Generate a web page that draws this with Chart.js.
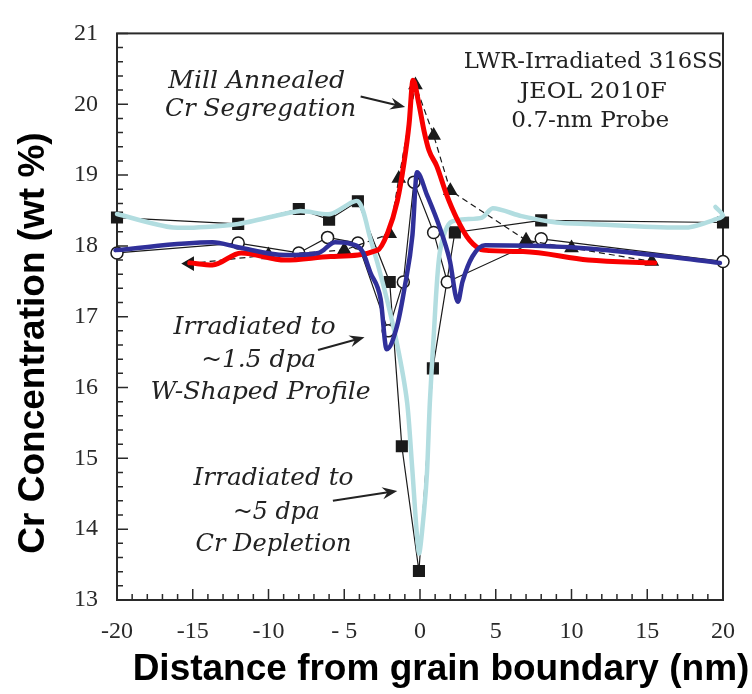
<!DOCTYPE html>
<html>
<head>
<meta charset="utf-8">
<script src="https://cdn.jsdelivr.net/npm/chart.js@4"></script>
<style>
  body { margin: 0; background: #fff; }
</style>
</head>
<body>
<canvas id="chart" width="752" height="694"></canvas>
<script>
// values (x in nm, y in wt %)

const xTickValues = [-20, -15, -10, -5, 0, 5, 10, 15, 20];
const xTickLabels = ["-20", "-15", "-10", "- 5", "0", "5", "10", "15", "20"];
const yTickValues = [13, 14, 15, 16, 17, 18, 19, 20, 21];
const yTickLabels = ["13", "14", "15", "16", "17", "18", "19", "20", "21"];

// hand-drawn coloured curves
const redX = [-15.2, -13.7, -11.8, -8.9, -5.9, -2.8, -2.16, -1.5, -1.05, -0.72, -0.46, -0.07, 0.26, 0.59, 1.1, 1.76, 2.4, 3.27, 4.2, 6.8, 11.1, 15.5];
const redY = [17.76, 17.73, 17.9, 17.8, 17.85, 17.94, 18.17, 18.63, 19.18, 19.72, 20.34, 20.0, 19.63, 19.35, 19.13, 18.72, 18.4, 18.08, 17.94, 17.92, 17.8, 17.76];

const darkX = [-20.1, -13.7, -12, -8.9, -6.7, -5.6, -4.6, -3.8, -3.27, -2.6, -2.2, -1.5, -1.0, -0.5, -0.2, 0.46, 1.3, 1.96, 2.5, 2.8, 3.46, 4.3, 10, 15.4, 19.8];
const darkY = [17.94, 18.05, 17.98, 17.87, 17.9, 18.05, 18.03, 17.92, 17.62, 17.25, 16.54, 16.88, 17.43, 18.15, 19.04, 18.72, 18.26, 17.8, 17.21, 17.49, 17.85, 18.01, 17.98, 17.87, 17.76];

const lightX = [-20, -16.3, -12, -8, -5.9, -4.1, -3.3, -2.4, -1.5, -0.85, -0.52, -0.07, 0.26, 0.46, 0.65, 0.9, 1.3, 2.0, 4.1, 4.8, 6.7, 9, 11.1, 17.6, 19.6, 20, 19.5];
const lightY = [18.45, 18.26, 18.31, 18.49, 18.45, 18.63, 18.12, 17.43, 16.6, 15.79, 14.88, 13.66, 14.24, 14.79, 15.79, 16.71, 17.9, 18.33, 18.4, 18.53, 18.42, 18.33, 18.31, 18.26, 18.38, 18.43, 18.55];

// original measured points
const sqX = [-20, -12, -8, -6, -4.1, -2, -1.2, -0.07, 0.85, 2.3, 8, 20];
const sqY = [18.4, 18.31, 18.52, 18.37, 18.63, 17.49, 15.17, 13.41, 16.27, 18.19, 18.36, 18.33];

const circX = [-20, -12, -8, -6.1, -4.1, -2.1, -1.1, -0.4, 0.9, 1.8, 8, 20];
const circY = [17.9, 18.04, 17.9, 18.12, 18.04, 16.8, 17.49, 18.9, 18.19, 17.49, 18.1, 17.78];

const triX = [-15.2, -10, -5, -2, -1.4, -0.3, 0.9, 2, 7, 10, 15.3];
const triY = [17.75, 17.87, 17.94, 18.17, 18.95, 20.27, 19.56, 18.78, 18.08, 17.97, 17.78];

const pts = (xs, ys) => xs.map((x, i) => ({ x: x, y: ys[i] }));

// labels on the plot, placed in data units
const notes = [
  { text: "Mill Annealed", x: -10.78, y: 20.23, w: 177, italic: true },
  { text: "Cr Segregation", x: -10.52, y: 19.83, w: 191, italic: true },
  { text: "LWR-Irradiated 316SS", x: 11.44, y: 20.51, w: 259, italic: false },
  { text: "JEOL 2010F", x: 11.44, y: 20.09, w: 147, italic: false },
  { text: "0.7-nm Probe", x: 11.24, y: 19.68, w: 158, italic: false },
  { text: "Irradiated to", x: -10.92, y: 16.75, w: 162, italic: true },
  { text: "~1.5 dpa", x: -10.65, y: 16.29, w: 115, italic: true },
  { text: "W-Shaped Profile", x: -10.52, y: 15.84, w: 220, italic: true },
  { text: "Irradiated to", x: -9.67, y: 14.62, w: 160, italic: true },
  { text: "~5 dpa", x: -9.48, y: 14.14, w: 87, italic: true },
  { text: "Cr Depletion", x: -9.67, y: 13.69, w: 156, italic: true },
];
const arrows = [
  [-3.92, 20.11, -0.98, 19.96],
  [-6.73, 16.53, -3.66, 16.71],
  [-5.75, 14.40, -1.5, 14.54],
];

const frame = {
  id: "frame",
  beforeDatasetsDraw(chart) {
    const { ctx, chartArea: a, scales } = chart;
    const x = scales.x, y = scales.y;
    ctx.save();
    ctx.strokeStyle = "#2a2a2a";
    ctx.lineWidth = 2;
    ctx.strokeRect(a.left, a.top, a.right - a.left, a.bottom - a.top);
    ctx.lineWidth = 1.5;
    ctx.beginPath();
    for (let i = 0; i <= 40; i++) {
      const py = y.getPixelForValue(13 + i * 0.2);
      ctx.moveTo(a.left, py);
      ctx.lineTo(a.left + (i % 5 === 0 ? 11 : 6), py);
    }
    for (let v = -20; v <= 20; v++) {
      const px = x.getPixelForValue(v);
      ctx.moveTo(px, a.bottom);
      ctx.lineTo(px, a.bottom - (v % 5 === 0 ? 11 : 6));
    }
    ctx.stroke();
    ctx.restore();
  },
  afterDraw(chart) {
    const { ctx, scales } = chart;
    const x = scales.x, y = scales.y;
    ctx.save();
    ctx.fillStyle = "#222";
    ctx.textAlign = "center";
    ctx.textBaseline = "alphabetic";
    notes.forEach((n) => {
      ctx.font = (n.italic ? "italic 24px" : "22px") + ' "DejaVu Serif"';
      const w = ctx.measureText(n.text).width;
      ctx.save();
      ctx.translate(x.getPixelForValue(n.x), y.getPixelForValue(n.y));
      ctx.scale(n.w / w, 1);
      ctx.fillText(n.text, 0, 0);
      ctx.restore();
    });
    ctx.strokeStyle = "#222";
    ctx.lineWidth = 2;
    arrows.forEach((a) => {
      const x0 = x.getPixelForValue(a[0]), y0 = y.getPixelForValue(a[1]);
      const x1 = x.getPixelForValue(a[2]), y1 = y.getPixelForValue(a[3]);
      const ang = Math.atan2(y1 - y0, x1 - x0);
      ctx.beginPath();
      ctx.moveTo(x0, y0);
      ctx.lineTo(x1 - 6 * Math.cos(ang), y1 - 6 * Math.sin(ang));
      ctx.stroke();
      ctx.save();
      ctx.translate(x1, y1);
      ctx.rotate(ang);
      ctx.beginPath();
      ctx.moveTo(0, 0);
      ctx.lineTo(-15, -6);
      ctx.lineTo(-10, 0);
      ctx.lineTo(-15, 6);
      ctx.closePath();
      ctx.fill();
      ctx.restore();
    });

    // axis titles
    ctx.fillStyle = "#000";
    ctx.font = 'bold 37px "Liberation Sans", Arial, sans-serif';
    ctx.textAlign = "center";
    ctx.fillText("Distance from grain boundary (nm)", 441, 680);
    ctx.translate(44, 343);
    ctx.rotate(-Math.PI / 2);
    ctx.fillText("Cr Concentration (wt %)", 0, 0);
    ctx.restore();
  },
};

const curve = (xs, ys, color, width, extra) =>
  Object.assign({
    data: pts(xs, ys),
    showLine: true,
    borderColor: color,
    borderWidth: width,
    pointRadius: 0,
    borderCapStyle: "round",
    borderJoinStyle: "round",
    clip: false,
  }, extra);

const markers = (xs, ys, style, extra) =>
  Object.assign({
    data: pts(xs, ys),
    showLine: true,
    borderColor: "#1a1a1a",
    borderWidth: 1.2,
    pointStyle: style,
    pointBorderColor: "#1a1a1a",
    pointBackgroundColor: "#1a1a1a",
    pointBorderWidth: 1.5,
    tension: 0,
    clip: false,
  }, extra);

new Chart(document.getElementById("chart"), {
  type: "scatter",
  data: {
    datasets: [
      curve(darkX, darkY, "#30309a", 4.5, { cubicInterpolationMode: "monotone" }),
      curve(redX, redY, "#f80000", 5, { cubicInterpolationMode: "monotone" }),
      curve(lightX, lightY, "#b2dde0", 4.5, { tension: 0.25 }),
      markers(triX, triY, "triangle", {
        pointRadius: 7,
        borderDash: [6, 4],
        pointRotation: (c) => (c.dataIndex === 0 ? -90 : 0),
      }),
      markers(circX, circY, "circle", {
        pointRadius: 6,
        pointBackgroundColor: "#fff",
      }),
      markers(sqX, sqY, "rect", { pointRadius: 7.5 }),
    ],
  },
  options: {
    responsive: false,
    animation: false,
    events: [],
    layout: { padding: { top: 17, right: 23, left: 0, bottom: 0 } },
    plugins: { legend: { display: false }, tooltip: { enabled: false } },
    scales: {
      x: {
        type: "linear",
        min: -20,
        max: 20,
        grid: { display: false, drawTicks: false },
        border: { display: false },
        afterBuildTicks: (s) => { s.ticks = xTickValues.map((v) => ({ value: v })); },
        afterFit: (s) => { s.height = 94; },
        ticks: {
          padding: 17,
          color: "#2a2a2a",
          font: { family: "Liberation Serif", size: 24 },
          callback: (v) => xTickLabels[xTickValues.indexOf(v)],
        },
      },
      y: {
        type: "linear",
        min: 13,
        max: 21,
        grid: { display: false, drawTicks: false },
        border: { display: false },
        afterBuildTicks: (s) => { s.ticks = yTickValues.map((v) => ({ value: v })); },
        afterFit: (s) => { s.width = 117; },
        ticks: {
          padding: 19,
          color: "#2a2a2a",
          font: { family: "Liberation Serif", size: 24 },
          callback: (v) => yTickLabels[yTickValues.indexOf(v)],
        },
      },
    },
  },
  plugins: [frame],
});
</script>
</body>
</html>
